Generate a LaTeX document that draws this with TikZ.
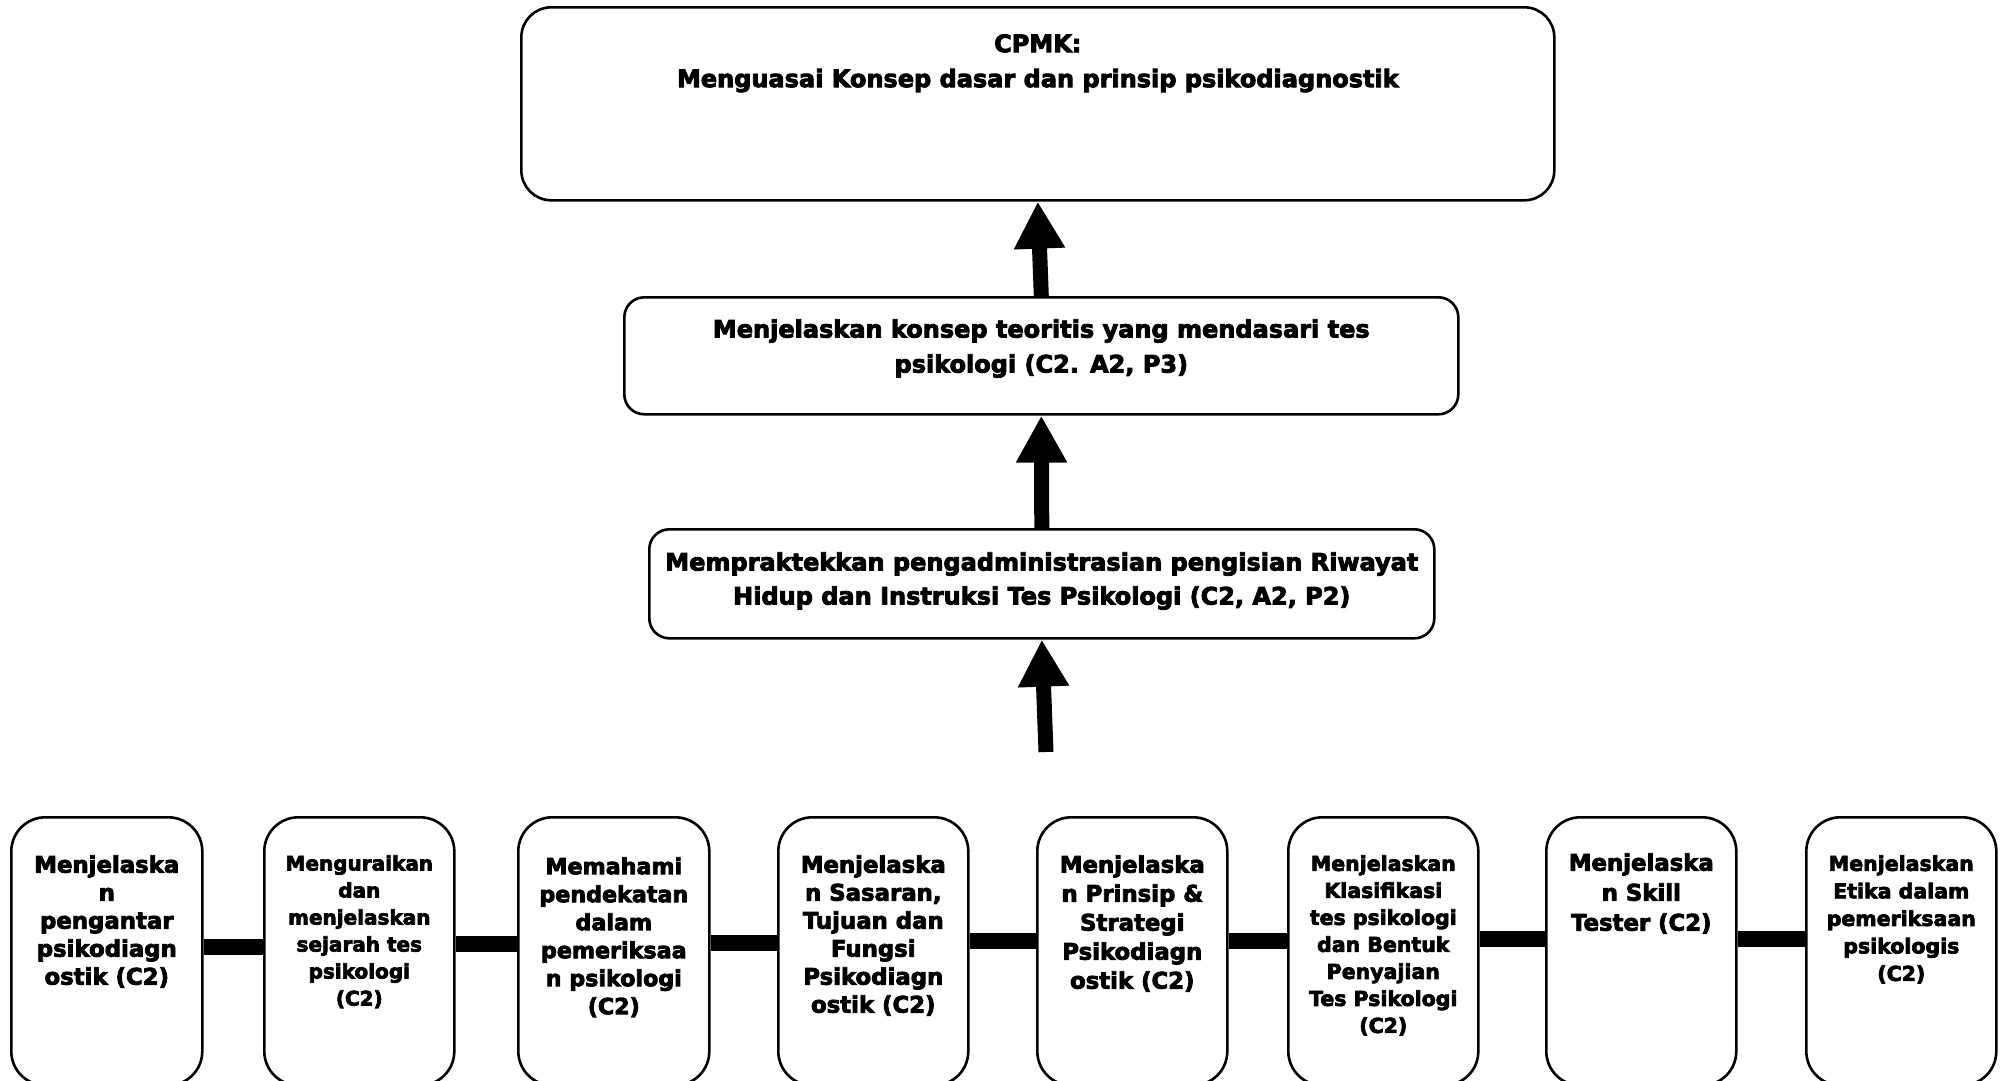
\documentclass[tikz,border=0pt]{standalone}
\usepackage{fontspec}
\setmainfont{DejaVu Sans}[BoldFeatures={FakeBold=3.5}]
\usetikzlibrary{arrows.meta}
\newcommand{\boxtext}[6]{\begin{minipage}[t][#2][t]{#1}\centering\fontsize{#4}{#5}\selectfont\bfseries\vspace*{#3}#6\end{minipage}}
\tikzset{
  box/.style={draw=black, line width=2.6pt, inner sep=0pt, anchor=north west, fill=white},
  topbox/.style={box, rounded corners=30pt},
  midbox/.style={box, rounded corners=20pt},
  lowbox/.style={box, rounded corners=34pt},
  uparrow/.style={line width=15pt, -{Triangle[length=47pt,width=48pt]}},
  bar/.style={line width=16pt}
}
\begin{document}
\begin{tikzpicture}[x=1pt,y=-1pt]
\useasboundingbox[fill=white] (0,0) rectangle (2000,1080);
% upper boxes
\node[topbox] (cpmk) at (520,6) {\boxtext{1033pt}{193pt}{27pt}{24pt}{35pt}{CPMK:\\Menguasai Konsep dasar dan prinsip psikodiagnostik}};
\node[midbox] (teori) at (623,296) {\boxtext{834pt}{117pt}{22pt}{24pt}{35pt}{Menjelaskan konsep teoritis yang mendasari tes\\psikologi (C2. A2, P3)}};
\node[midbox] (praktek) at (648,528) {\boxtext{785pt}{109pt}{23pt}{24pt}{34pt}{Mempraktekkan pengadministrasian pengisian Riwayat\\Hidup dan Instruksi Tes Psikologi (C2, A2, P2)}};
\coordinate (start) at (1046,752);
% arrows
\draw[uparrow] (start) -- (praktek.south);
\draw[uparrow] (praktek.north) -- (teori.south);
\draw[uparrow] (teori.north) -- (cpmk.south);
% bottom boxes
\node[lowbox] (b1) at (10,816) {\boxtext{191pt}{268pt}{38pt}{22.8pt}{28pt}{Menjelaska\\n\\pengantar\\psikodiagn\\ostik (C2)}};
\node[lowbox] (b2) at (263,816) {\boxtext{190pt}{268pt}{38pt}{20pt}{27pt}{Menguraikan\\dan\\menjelaskan\\sejarah tes\\psikologi\\(C2)}};
\node[lowbox] (b3) at (517,816) {\boxtext{191pt}{268pt}{40pt}{22.2pt}{28pt}{Memahami\\pendekatan\\dalam\\pemeriksaa\\n psikologi\\(C2)}};
\node[lowbox] (b4) at (777,816) {\boxtext{190pt}{268pt}{38pt}{22.8pt}{28pt}{Menjelaska\\n Sasaran,\\Tujuan dan\\Fungsi\\Psikodiagn\\ostik (C2)}};
\node[lowbox] (b5) at (1036,816) {\boxtext{190pt}{268pt}{38pt}{22.8pt}{29pt}{Menjelaska\\n Prinsip \&\\Strategi\\Psikodiagn\\ostik (C2)}};
\node[lowbox] (b6) at (1287,816) {\boxtext{190pt}{268pt}{38pt}{20.5pt}{27pt}{Menjelaskan\\Klasifikasi\\tes psikologi\\dan Bentuk\\Penyajian\\Tes Psikologi\\(C2)}};
\node[lowbox] (b7) at (1545,816) {\boxtext{190pt}{268pt}{36pt}{22.8pt}{30pt}{Menjelaska\\n Skill\\Tester (C2)}};
\node[lowbox] (b8) at (1805,816) {\boxtext{190pt}{268pt}{38pt}{20.5pt}{27.5pt}{Menjelaskan\\Etika dalam\\pemeriksaan\\psikologis\\(C2)}};
% bars
\draw[bar] ([yshift=4pt]b1.east) -- ([yshift=4pt]b2.west);
\draw[bar] ([yshift=7pt]b2.east) -- ([yshift=7pt]b3.west);
\draw[bar] ([yshift=8pt]b3.east) -- ([yshift=8pt]b4.west);
\draw[bar] ([yshift=10pt]b4.east) -- ([yshift=10pt]b5.west);
\draw[bar] ([yshift=10pt]b5.east) -- ([yshift=10pt]b6.west);
\draw[bar] ([yshift=12pt]b6.east) -- ([yshift=12pt]b7.west);
\draw[bar] ([yshift=12pt]b7.east) -- ([yshift=12pt]b8.west);
\end{tikzpicture}
\end{document}
